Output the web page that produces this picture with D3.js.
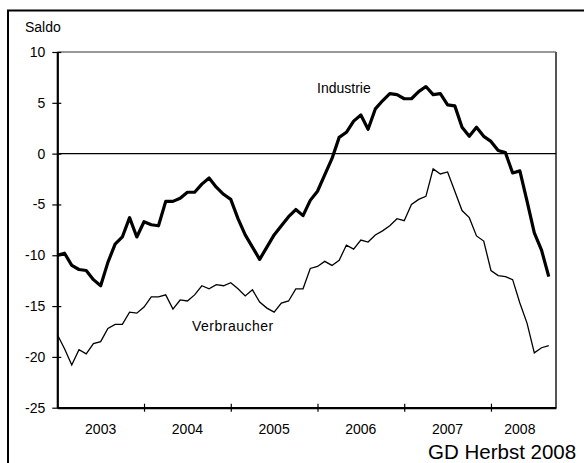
<!DOCTYPE html>
<html>
<head>
<meta charset="utf-8">
<script src="https://cdn.jsdelivr.net/npm/d3@7"></script>
<style>
    body { margin: 0; background: #fff; }
    svg { display: block; font-family: "Liberation Sans", Arial, sans-serif; }
</style>
</head>
<body>
<svg id="graph" width="584" height="463"></svg>
<script>
    // monthly categories, Jan 2003 - Sep 2008
    var months = d3.timeMonth.range(new Date(2003, 0, 1), new Date(2008, 9, 1));

    var years = ["2003", "2004", "2005", "2006", "2007", "2008"];

    var yTicks = [-25, -20, -15, -10, -5, 0, 5, 10];

    var industrie = [
        -10.0, -9.8, -11.0, -11.4, -11.5, -12.4, -13.0, -10.7, -8.9, -8.2, -6.3, -8.2,
        -6.7, -7.0, -7.1, -4.7, -4.7, -4.4, -3.8, -3.8, -3.0, -2.4, -3.3, -4.0,
        -4.5, -6.4, -8.0, -9.2, -10.4, -9.2, -8.0, -7.1, -6.2, -5.5, -6.1, -4.6,
        -3.7, -2.1, -0.5, 1.6, 2.1, 3.2, 3.8, 2.4, 4.4, 5.2, 5.9, 5.8,
        5.4, 5.4, 6.1, 6.6, 5.8, 5.9, 4.8, 4.7, 2.6, 1.7, 2.6, 1.7,
        1.2, 0.3, 0.1, -1.9, -1.7, -4.7, -7.8, -9.5, -12.1
    ];

    var verbraucher = [
        -17.8, -19.2, -20.8, -19.3, -19.7, -18.7, -18.5, -17.2, -16.8, -16.8, -15.6, -15.7,
        -15.1, -14.1, -14.1, -13.9, -15.3, -14.4, -14.5, -13.9, -13.0, -13.3, -12.9, -13.0,
        -12.7, -13.3, -14.0, -13.4, -14.6, -15.2, -15.6, -14.7, -14.5, -13.3, -13.3, -11.3,
        -11.1, -10.6, -11.0, -10.5, -9.0, -9.4, -8.5, -8.7, -8.0, -7.6, -7.1, -6.4,
        -6.6, -5.0, -4.5, -4.2, -1.5, -2.0, -1.8, -3.7, -5.6, -6.3, -8.1, -8.6,
        -11.5, -12.0, -12.1, -12.4, -14.7, -16.7, -19.6, -19.1, -18.9
    ];

    (function () {
        'use strict';

        var svg = d3.select("#graph");

        var plot = { left: 57.3, right: 556, top: 52, bottom: 407.7 };

        // set the ranges
        var x = d3.scaleLinear().domain([0, months.length]).range([plot.left, plot.right]),
            y = d3.scaleLinear().domain([-25, 10]).range([plot.bottom, plot.top]);

        // outer frame (right and bottom edge fall outside the picture)
        svg.append("rect")
            .attr("x", 8)
            .attr("y", 10.5)
            .attr("width", 620)
            .attr("height", 500)
            .attr("fill", "none")
            .attr("stroke", "#000")
            .attr("stroke-width", 2);

        // plot area border: top and right
        svg.append("line")
            .attr("x1", plot.left).attr("x2", plot.right)
            .attr("y1", plot.top).attr("y2", plot.top)
            .attr("stroke", "#333")
            .attr("stroke-width", 1.2);

        svg.append("line")
            .attr("x1", plot.right).attr("x2", plot.right)
            .attr("y1", plot.top).attr("y2", plot.bottom)
            .attr("stroke", "#555")
            .attr("stroke-width", 2);

        // zero line
        svg.append("line")
            .attr("x1", plot.left).attr("x2", plot.right)
            .attr("y1", y(0)).attr("y2", y(0))
            .attr("stroke", "#000")
            .attr("stroke-width", 1.4);

        // Y axis (plain hyphen for negatives, as in the original)
        var yAxis = svg.append("g")
            .attr("transform", "translate(" + plot.left + ",0)")
            .call(d3.axisLeft(y)
                .tickValues(yTicks)
                .tickFormat(function (d) { return String(d); })
                .tickSize(5).tickPadding(7).tickSizeOuter(0));

        yAxis.select(".domain").attr("stroke-width", 2.2);
        yAxis.selectAll(".tick line").attr("x1", 4).attr("x2", -5).attr("stroke-width", 1.2);
        yAxis.selectAll(".tick text")
            .attr("font-size", 14)
            .attr("font-family", "Liberation Sans, Arial, sans-serif")
            .attr("fill", "#000");

        // X axis, ticks between the years
        var xAxis = svg.append("g")
            .attr("transform", "translate(0," + plot.bottom + ")")
            .call(d3.axisBottom(x).tickValues([12, 24, 36, 48, 60]).tickFormat("").tickSizeOuter(0));

        xAxis.select(".domain").attr("stroke-width", 2.2);
        xAxis.selectAll(".tick line").attr("y1", -4).attr("y2", 4).attr("stroke-width", 1.2);

        // year labels centred on each year's months
        svg.selectAll(".year")
            .data(years)
            .enter().append("text")
            .attr("class", "year")
            .attr("x", function (d, i) {
                var start = i * 12, end = Math.min(start + 12, months.length - 1);
                return x((start + end) / 2);
            })
            .attr("y", 434)
            .attr("text-anchor", "middle")
            .attr("font-size", 14)
            .text(function (d) { return d; });

        // define the line
        var line = d3.line()
            .x(function (d, i) { return x(i); })
            .y(function (d) { return y(d); });

        svg.append("path")
            .datum(verbraucher)
            .attr("fill", "none")
            .attr("stroke", "#000")
            .attr("stroke-width", 1.3)
            .attr("d", line);

        svg.append("path")
            .datum(industrie)
            .attr("fill", "none")
            .attr("stroke", "#000")
            .attr("stroke-width", 3.2)
            .attr("stroke-linejoin", "round")
            .attr("d", line);

        // labels
        svg.append("text")
            .attr("x", 25)
            .attr("y", 32)
            .attr("font-size", 14)
            .text("Saldo");

        svg.append("text")
            .attr("x", 317)
            .attr("y", 92.5)
            .attr("font-size", 14)
            .text("Industrie");

        svg.append("text")
            .attr("x", 192)
            .attr("y", 331)
            .attr("font-size", 14)
            .attr("letter-spacing", 0.5)
            .text("Verbraucher");

        svg.append("text")
            .attr("x", 428)
            .attr("y", 459)
            .attr("font-size", 20.5)
            .text("GD Herbst 2008");
    })();
</script>
</body>
</html>
